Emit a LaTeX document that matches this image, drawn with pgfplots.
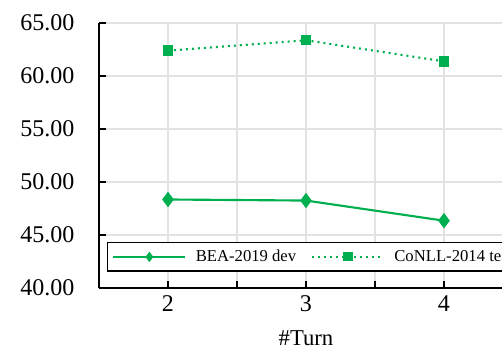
\documentclass[border=0pt]{standalone}
\usepackage{fontspec}
\setmainfont{Liberation Serif}
\usepackage{pgfplots}
\pgfplotsset{compat=1.18}
\definecolor{xlgreen}{HTML}{00B050}
\definecolor{gridgray}{HTML}{E3E3E3}
\begin{document}
\begin{tikzpicture}
\begin{axis}[
  x=103.5pt, y=7.95pt,
  xmin=1.5, xmax=4.5, ymin=40, ymax=65,
  axis x line*=bottom, axis y line*=left,
  axis line style={black, line width=1.5pt, -},
  xtick={2,3,4}, minor xtick={2.5,3.5},
  ytick={40,45,50,55,60,65},
  grid=both,
  major grid style={gridgray, line width=1.5pt},
  minor grid style={gridgray, line width=1.5pt},
  tick style={black, line width=1.2pt},
  tick align=inside,
  major tick length=5pt, minor tick length=5pt,
  /pgf/number format/assume math mode=true,
  yticklabel={\pgfmathprintnumber[fixed,fixed zerofill,precision=2]{\tick}},
  ticklabel style={font=\fontsize{18}{20}\selectfont},
  yticklabel style={xshift=-15pt},
  xticklabel style={yshift=-2pt},
  xlabel={\#Turn},
  xlabel style={font=\fontsize{17}{19}\selectfont, yshift=-7.5pt},
  clip=false,
  legend columns=2,
  legend style={at={(axis cs:1.558,41.54)}, anchor=south west, draw=black, line width=1pt,
    font=\fontsize{12.5}{14}\selectfont, column sep=5pt, inner sep=3.5pt,
    /tikz/every even column/.append style={column sep=9pt}},
  legend image code/.code={\draw[#1, mark size=2.6pt, mark repeat=2, mark phase=2] plot coordinates {(0pt,0pt) (27pt,0pt) (54pt,0pt)};},
]
\addplot[xlgreen, line width=1.6pt, mark=diamond*, mark size=4.5pt, mark options={solid}]
  coordinates {(2,48.35) (3,48.25) (4,46.35)};
\addlegendentry{BEA-2019 dev}
\addplot[xlgreen, line width=1.6pt, dash pattern=on 1.5pt off 3pt, mark=square*, mark size=3.1pt, mark options={solid}]
  coordinates {(2,62.39) (3,63.37) (4,61.38)};
\addlegendentry{CoNLL-2014 test}
\coordinate (bbsw) at (axis cs:0.7826,34.245);
\coordinate (bbne) at (axis cs:4.4203,67.17);
\end{axis}
\pgfresetboundingbox
\useasboundingbox (bbsw) rectangle (bbne);
\end{tikzpicture}
\end{document}
